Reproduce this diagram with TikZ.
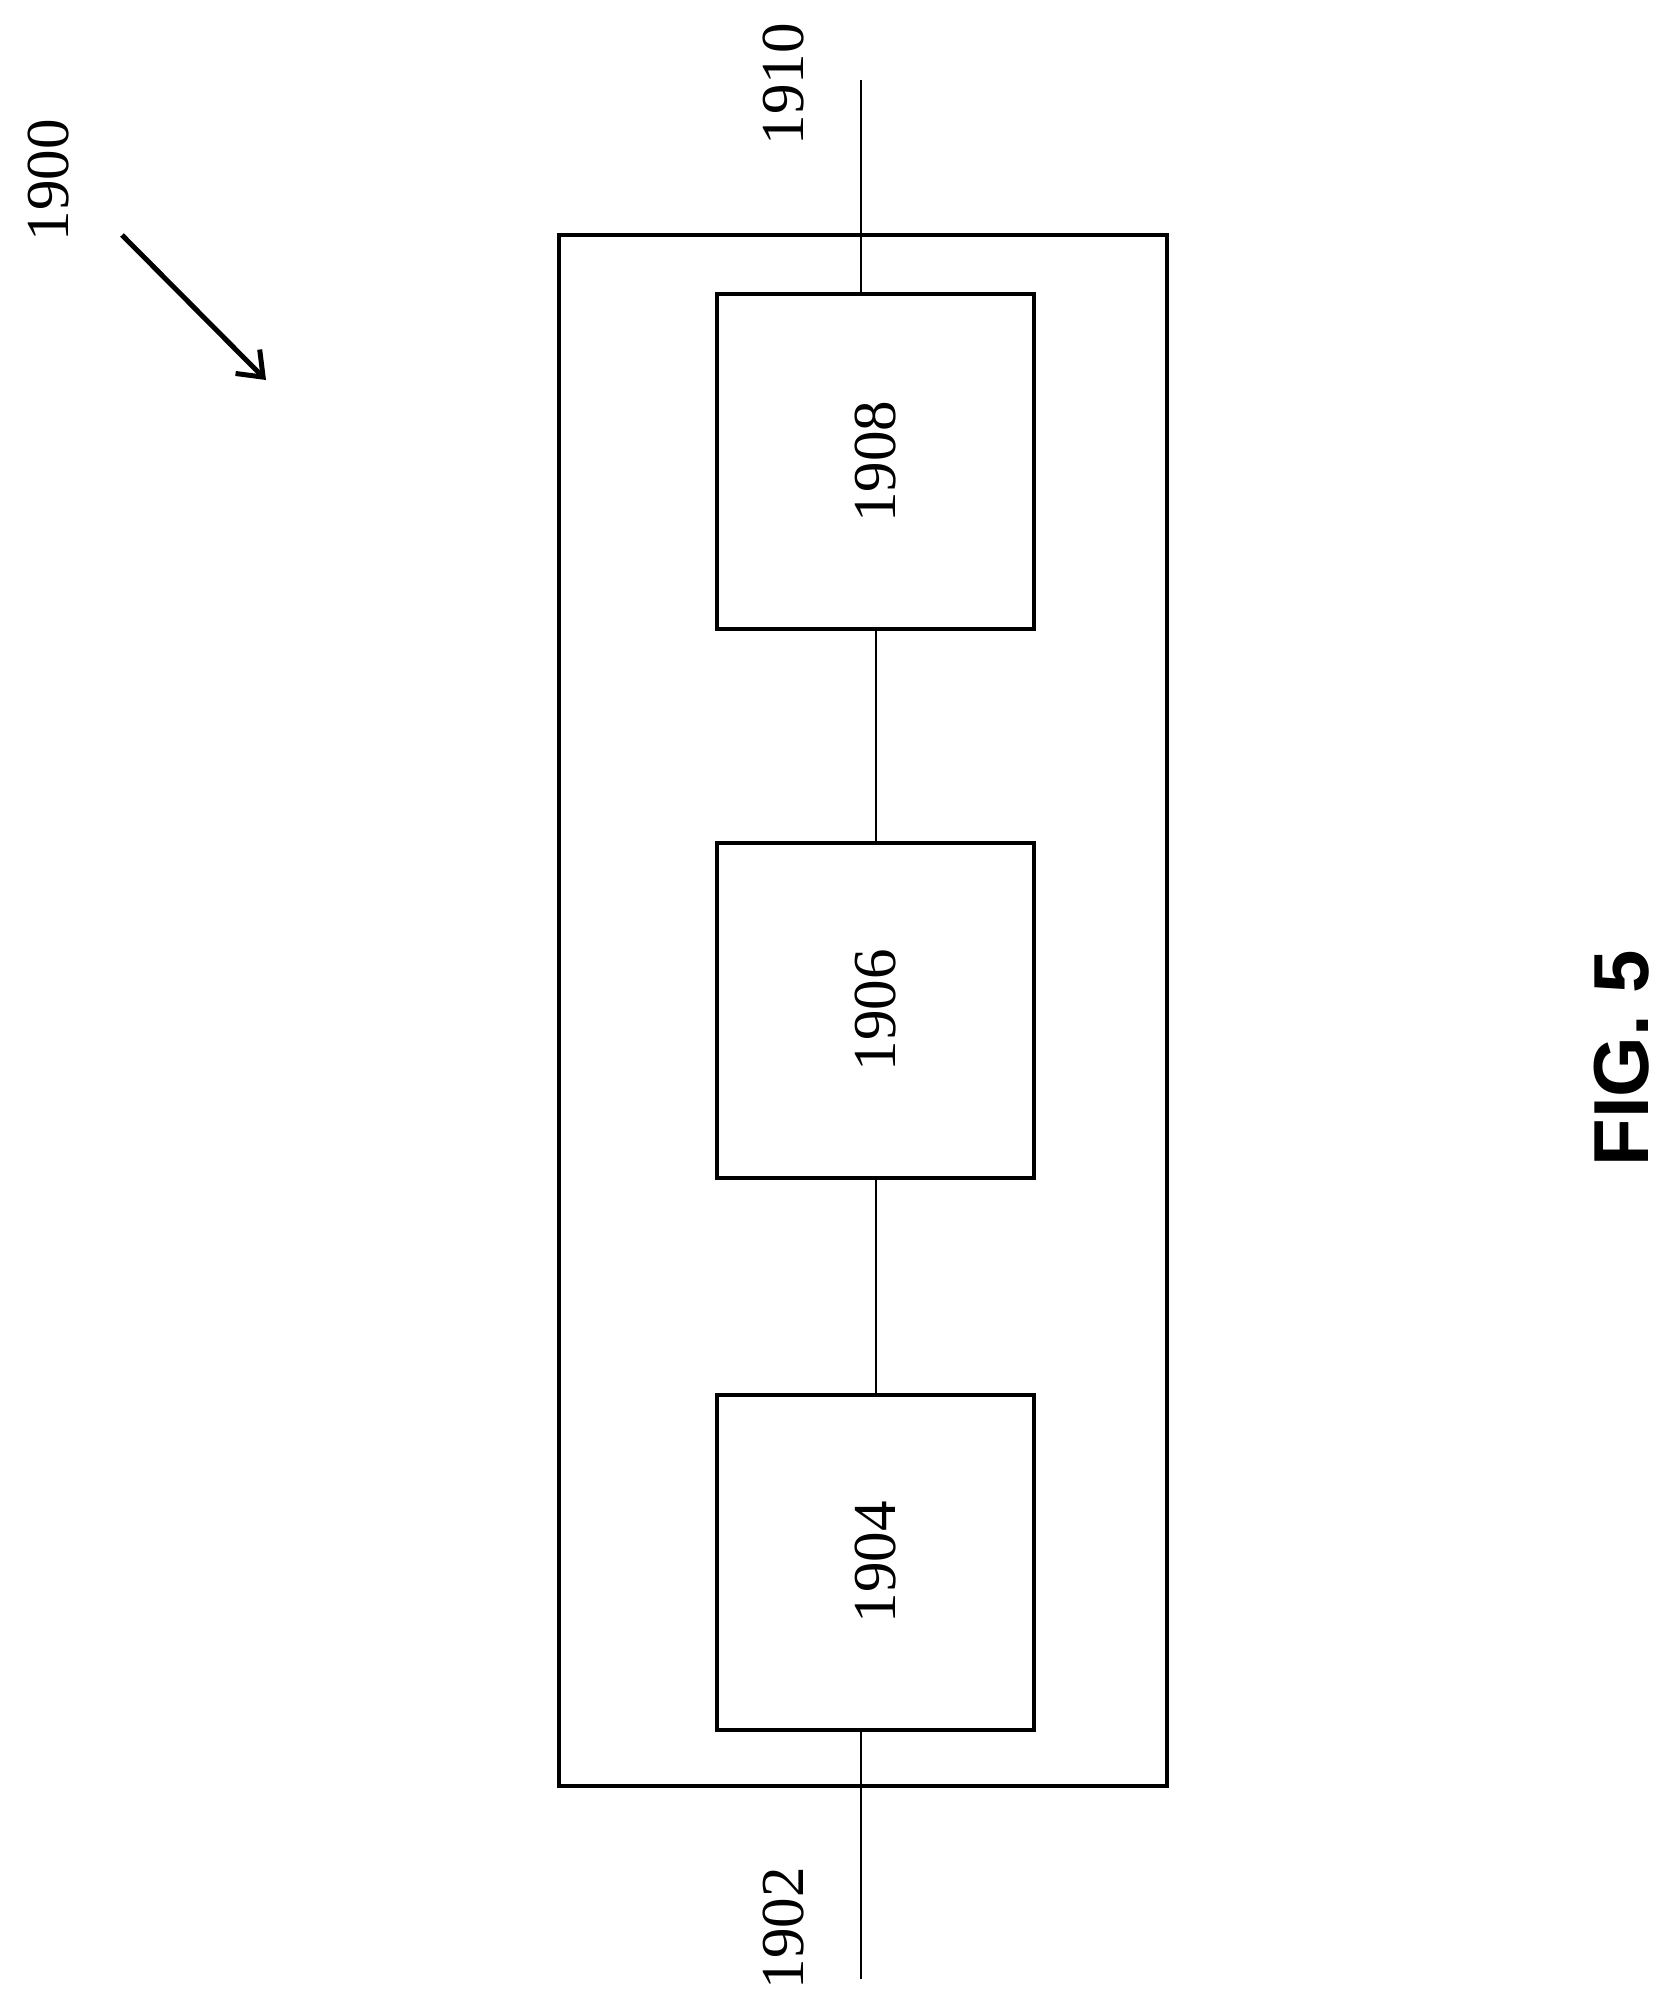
\documentclass[tikz,border=0pt]{standalone}
\usetikzlibrary{arrows.meta}
\usepackage{fontspec}
\setmainfont{Liberation Serif}
\newfontfamily\figfont{Liberation Sans}
\begin{document}
\begin{tikzpicture}[x=1pt,y=-1pt,
  box/.style={draw,line width=4pt,minimum width=317pt,minimum height=335pt,inner sep=0pt},
  lbl/.style={rotate=90,font=\fontsize{61}{61}\selectfont},
  wire/.style={line width=2pt}]
\useasboundingbox (0,0) rectangle (1671,2006);
\node[draw,line width=4.5pt,minimum width=608pt,minimum height=1551pt,inner sep=0pt] (outer) at (863,1010.5) {};
\node[box] (b8) at (875.5,461.5) {};
\node[box] (b6) at (875.5,1010) {};
\node[box] (b4) at (875.5,1562) {};
\node[lbl] at (b8) {1908};
\node[lbl] at (b6) {1906};
\node[lbl] at (b4) {1904};
\coordinate (t) at (861,80);
\coordinate (bt) at (861,1979);
\draw[wire] (t) -- (t |- b8.north);
\draw[wire] (bt) -- (bt |- b4.south);
\draw[wire] (b8.south) -- (b6.north);
\draw[wire] (b6.south) -- (b4.north);
\node[lbl] (l10) at (784,84) {1910};
\node[lbl] (l02) at (784,1928) {1902};
\node[lbl] (l00) at (49,180) {1900};
\coordinate (a1) at (122,235);
\coordinate (a2) at (266,380);
\draw[line width=5pt,-{Straight Barb[length=22pt,width=34pt,line width=5pt]}] (a1) -- (a2);
\node[rotate=90,font=\figfont\bfseries\fontsize{78}{78}\selectfont] (fig) at (1622,1058) {FIG. 5};
\end{tikzpicture}
\end{document}
